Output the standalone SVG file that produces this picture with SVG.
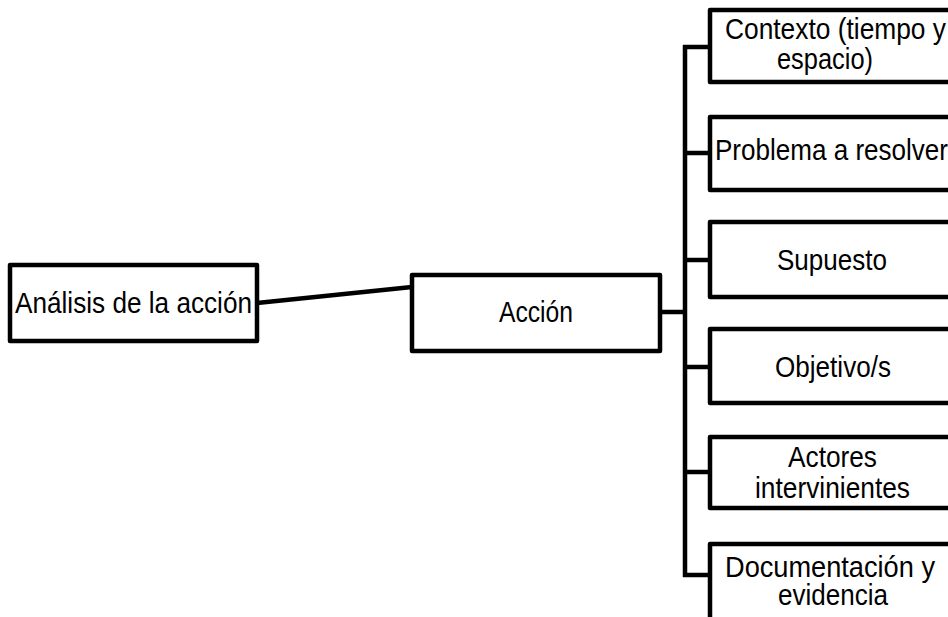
<svg xmlns="http://www.w3.org/2000/svg" width="948" height="617" viewBox="0 0 948 617">
<style>
.box{fill:#fff;stroke:#000;stroke-width:4.5;stroke-linejoin:round}
.lbl{font-family:"Liberation Sans",Arial,sans-serif;font-size:30px;fill:#000}
.conn{stroke:#000;stroke-width:4.5;fill:none;stroke-linecap:butt}
</style>
<rect width="948" height="617" fill="#fff"/>
<g id="connectors">
<line class="conn" x1="257" y1="303" x2="412" y2="287"/>
<line class="conn" x1="660" y1="312" x2="687" y2="312"/>
<line class="conn" x1="685" y1="45" x2="685" y2="577"/>
<line class="conn" x1="683" y1="47" x2="710" y2="47"/>
<line class="conn" x1="683" y1="153" x2="710" y2="153"/>
<line class="conn" x1="683" y1="260" x2="710" y2="260"/>
<line class="conn" x1="683" y1="367" x2="710" y2="367"/>
<line class="conn" x1="683" y1="472" x2="710" y2="472"/>
<line class="conn" x1="683" y1="575" x2="710" y2="575"/>
</g>
<g id="node-analisis">
<rect class="box" x="10" y="265" width="247" height="76"/>
<text class="lbl" x="15" y="313" textLength="237" lengthAdjust="spacingAndGlyphs">Análisis de la acción</text>
</g>
<g id="node-accion">
<rect class="box" x="412" y="275" width="248" height="76"/>
<text class="lbl" x="499" y="322" textLength="74" lengthAdjust="spacingAndGlyphs">Acción</text>
</g>
<g id="node-contexto">
<rect class="box" x="710" y="10" width="250" height="72"/>
<text class="lbl" x="725" y="39" textLength="221" lengthAdjust="spacingAndGlyphs">Contexto (tiempo y</text>
<text class="lbl" x="777" y="69" textLength="96" lengthAdjust="spacingAndGlyphs">espacio)</text>
</g>
<g id="node-problema">
<rect class="box" x="710" y="117" width="250" height="73"/>
<text class="lbl" x="715" y="160" textLength="233" lengthAdjust="spacingAndGlyphs">Problema a resolver</text>
</g>
<g id="node-supuesto">
<rect class="box" x="710" y="222" width="250" height="75"/>
<text class="lbl" x="777" y="270" textLength="110" lengthAdjust="spacingAndGlyphs">Supuesto</text>
</g>
<g id="node-objetivos">
<rect class="box" x="710" y="329" width="250" height="74"/>
<text class="lbl" x="775" y="377" textLength="116" lengthAdjust="spacingAndGlyphs">Objetivo/s</text>
</g>
<g id="node-actores">
<rect class="box" x="710" y="437" width="250" height="71"/>
<text class="lbl" x="788" y="467" textLength="89" lengthAdjust="spacingAndGlyphs">Actores</text>
<text class="lbl" x="755" y="498" textLength="155" lengthAdjust="spacingAndGlyphs">intervinientes</text>
</g>
<g id="node-documentacion">
<rect class="box" x="710" y="544" width="250" height="76"/>
<text class="lbl" x="725" y="577" textLength="210" lengthAdjust="spacingAndGlyphs">Documentación y</text>
<text class="lbl" x="778" y="605" textLength="110" lengthAdjust="spacingAndGlyphs">evidencia</text>
</g>
</svg>
